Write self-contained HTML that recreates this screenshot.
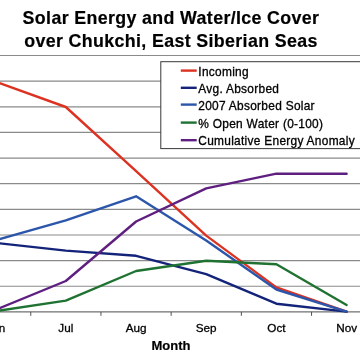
<!DOCTYPE html>
<html><head><meta charset="utf-8"><style>
html,body{margin:0;padding:0;background:#fff;width:360px;height:360px;overflow:hidden}
svg{display:block;will-change:transform}
text{font-family:"Liberation Sans",sans-serif;fill:#000}
.tt{font-size:17.8px;font-weight:bold;letter-spacing:0.37px;stroke:#000;stroke-width:0.2px}
.lg{font-size:11.9px;letter-spacing:0.29px;stroke:#000;stroke-width:0.3px}
.ax{font-size:11.7px;stroke:#000;stroke-width:0.3px}
.mt{font-size:13.0px;font-weight:bold;stroke:#000;stroke-width:0.2px}
</style></head><body>
<svg width="360" height="360" viewBox="0 0 360 360">
<line x1="0" y1="55.50" x2="360" y2="55.50" stroke="#8a8a8a" stroke-width="1.2"/>
<line x1="0" y1="81.14" x2="360" y2="81.14" stroke="#8a8a8a" stroke-width="1.2"/>
<line x1="0" y1="106.78" x2="360" y2="106.78" stroke="#8a8a8a" stroke-width="1.2"/>
<line x1="0" y1="132.42" x2="360" y2="132.42" stroke="#8a8a8a" stroke-width="1.2"/>
<line x1="0" y1="158.06" x2="360" y2="158.06" stroke="#8a8a8a" stroke-width="1.2"/>
<line x1="0" y1="183.70" x2="360" y2="183.70" stroke="#8a8a8a" stroke-width="1.2"/>
<line x1="0" y1="209.34" x2="360" y2="209.34" stroke="#8a8a8a" stroke-width="1.2"/>
<line x1="0" y1="234.98" x2="360" y2="234.98" stroke="#8a8a8a" stroke-width="1.2"/>
<line x1="0" y1="260.62" x2="360" y2="260.62" stroke="#8a8a8a" stroke-width="1.2"/>
<line x1="0" y1="286.26" x2="360" y2="286.26" stroke="#8a8a8a" stroke-width="1.2"/>
<line x1="0" y1="311.90" x2="360" y2="311.90" stroke="#707070" stroke-width="1.2"/>
<line x1="30.75" y1="311.90" x2="30.75" y2="315.8" stroke="#505050" stroke-width="1"/>
<line x1="100.95" y1="311.90" x2="100.95" y2="315.8" stroke="#505050" stroke-width="1"/>
<line x1="171.15" y1="311.90" x2="171.15" y2="315.8" stroke="#505050" stroke-width="1"/>
<line x1="241.35" y1="311.90" x2="241.35" y2="315.8" stroke="#505050" stroke-width="1"/>
<line x1="311.55" y1="311.90" x2="311.55" y2="315.8" stroke="#505050" stroke-width="1"/>
<rect x="160.8" y="61.7" width="220" height="86.9" fill="#fff" stroke="#383838" stroke-width="1"/>
<polyline points="-4.3,81.7 65.8,107.0 136.1,171.2 206.2,235.6 276.4,287.4 346.6,311.6" fill="none" stroke="#dc3222" stroke-width="2.4" stroke-linejoin="round" stroke-linecap="round"/>
<polyline points="-4.3,242.9 65.8,250.6 136.1,255.8 206.2,274.2 276.4,303.7 346.6,311.6" fill="none" stroke="#14237a" stroke-width="2.4" stroke-linejoin="round" stroke-linecap="round"/>
<polyline points="-4.3,240.3 65.8,220.3 136.1,196.3 206.2,240.6 276.4,289.5 346.6,311.6" fill="none" stroke="#2c56aa" stroke-width="2.4" stroke-linejoin="round" stroke-linecap="round"/>
<polyline points="-4.3,311.2 65.8,300.6 136.1,271.0 206.2,260.8 276.4,264.2 346.6,305.0" fill="none" stroke="#1f7232" stroke-width="2.4" stroke-linejoin="round" stroke-linecap="round"/>
<polyline points="-4.3,309.7 65.8,281.0 136.1,221.5 206.2,188.3 276.4,173.6 346.6,173.8" fill="none" stroke="#5f1f80" stroke-width="2.4" stroke-linejoin="round" stroke-linecap="round"/>
<line x1="180.8" y1="70.6" x2="196.7" y2="70.6" stroke="#dc3222" stroke-width="2.4"/>
<text x="198.3" y="75.6" class="lg">Incoming</text>
<line x1="180.8" y1="87.8" x2="196.7" y2="87.8" stroke="#14237a" stroke-width="2.4"/>
<text x="198.3" y="92.8" class="lg">Avg. Absorbed</text>
<line x1="180.8" y1="104.6" x2="196.7" y2="104.6" stroke="#2c56aa" stroke-width="2.4"/>
<text x="198.3" y="109.6" class="lg">2007 Absorbed Solar</text>
<line x1="180.8" y1="122.6" x2="196.7" y2="122.6" stroke="#1f7232" stroke-width="2.4"/>
<text x="198.3" y="127.6" class="lg">% Open Water (0-100)</text>
<line x1="180.8" y1="140.2" x2="196.7" y2="140.2" stroke="#5f1f80" stroke-width="2.4"/>
<text x="198.3" y="145.2" class="lg">Cumulative Energy Anomaly</text>
<text x="-4.3" y="332.2" class="ax" text-anchor="middle">Jun</text>
<text x="65.8" y="332.2" class="ax" text-anchor="middle">Jul</text>
<text x="136.1" y="332.2" class="ax" text-anchor="middle">Aug</text>
<text x="206.2" y="332.2" class="ax" text-anchor="middle">Sep</text>
<text x="276.4" y="332.2" class="ax" text-anchor="middle">Oct</text>
<text x="346.6" y="332.2" class="ax" text-anchor="middle">Nov</text>
<text x="171.0" y="349.7" class="mt" text-anchor="middle">Month</text>
<text x="171.0" y="23.9" class="tt" text-anchor="middle">Solar Energy and Water/Ice Cover</text>
<text x="171.0" y="47.3" class="tt" text-anchor="middle">over Chukchi, East Siberian Seas</text>
</svg>
</body></html>
